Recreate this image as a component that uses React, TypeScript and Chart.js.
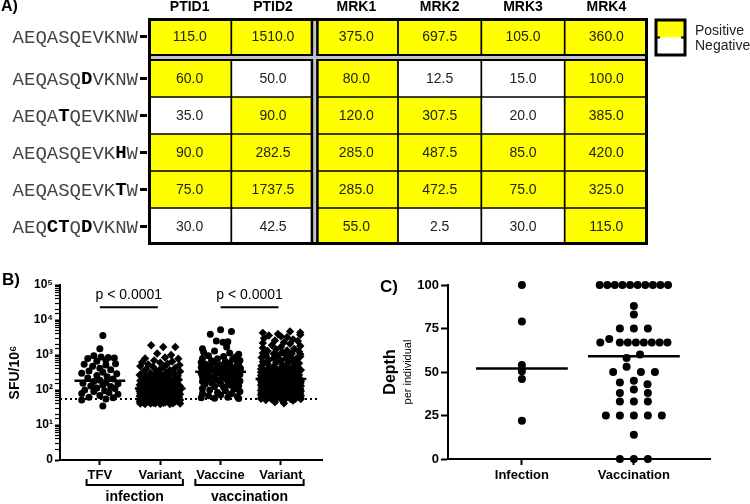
import React, { useEffect, useRef } from 'react';
import { Chart, registerables } from 'chart.js';

Chart.register(...registerables);

const SANS = '"Liberation Sans", Arial, Helvetica, sans-serif';
const NARROW = '"Liberation Sans Narrow", "Liberation Sans", Arial, sans-serif';
const MONO = '"Liberation Mono", "DejaVu Sans Mono", monospace';

Chart.defaults.font.family = SANS;
Chart.defaults.color = '#000';

// ---------------- Panel A data ----------------
const columnLabels = ['PTID1', 'PTID2', 'MRK1', 'MRK2', 'MRK3', 'MRK4'];
const peptides = ['AEQASQEVKNW', 'AEQASQDVKNW', 'AEQATQEVKNW', 'AEQASQEVKHW', 'AEQASQEVKTW', 'AEQCTQDVKNW'];
const peptideBold = [[], [6], [4], [9], [9], [3, 4, 6]];
const sfuValues = [
  [115, 1510, 375, 697.5, 105, 360],
  [60, 50, 80, 12.5, 15, 100],
  [35, 90, 120, 307.5, 20, 385],
  [90, 282.5, 285, 487.5, 85, 420],
  [75, 1737.5, 285, 472.5, 75, 325],
  [30, 42.5, 55, 2.5, 30, 115],
];
const positive = [
  [1, 1, 1, 1, 1, 1],
  [1, 0, 1, 0, 0, 1],
  [0, 1, 1, 1, 0, 1],
  [1, 1, 1, 1, 1, 1],
  [1, 1, 1, 1, 1, 1],
  [0, 0, 1, 0, 0, 1],
];
const legendLabels = ['Positive', 'Negative'];
const legendColors = ['#FFFF00', '#FFFFFF'];

// ---------------- Panel B data ----------------
const categoriesB = ['TFV', 'Variant', 'Vaccine', 'Variant'];
const groupsB = [
  { label: 'infection', from: 0, to: 1 },
  { label: 'vaccination', from: 2, to: 3 },
];
const yTickLabelsB = ['0', '10¹', '10²', '10³', '10⁴', '10⁵'];
const tfvPoints = [
  [0.05, 3600], [0.0, 1500], [-0.1, 950], [0.02, 880], [0.14, 850], [-0.2, 800], [0.24, 820], [0.1, 720],
  [-0.05, 660], [0.26, 560], [-0.26, 540], [0.1, 520], [-0.12, 480], [0.0, 420], [0.18, 380], [-0.18, 350],
  [0.05, 320], [-0.3, 300], [0.28, 290], [-0.05, 260], [0.12, 240], [-0.2, 220], [0.22, 205], [0.0, 190],
  [-0.1, 175], [0.1, 165], [-0.28, 155], [0.3, 150], [0.05, 140], [-0.15, 130], [0.18, 125], [-0.05, 115],
  [0.25, 110], [-0.25, 100], [0.08, 95], [-0.1, 90], [0.15, 85], [-0.3, 80], [0.3, 75], [0.0, 70],
  [-0.18, 62], [0.22, 60], [-0.3, 52], [0.1, 55], [0.05, 35],
];
const infectionVariantPoints = [
  [-0.15, 1900], [0.05, 1700], [0.25, 1700], [-0.05, 1100], [0.18, 1000], [-0.25, 800], [0.08, 850], [0.3, 780],
  [-0.1, 700], [0.2, 650], [-0.3, 620], [0.0, 600], [0.12, 560], [-0.2, 540], [0.32, 520],
  [-0.33, 480], [-0.12, 460], [0.06, 450], [0.25, 430], [-0.23, 400], [0.0, 390], [0.16, 370], [-0.06, 350],
  [0.33, 340], [-0.29, 320], [0.1, 310], [-0.16, 300], [0.23, 290], [0.02, 280], [-0.34, 270], [0.15, 265],
  [-0.08, 260], [0.29, 255], [-0.25, 252], [0.07, 250],
  [-0.31, 240], [-0.18, 235], [-0.04, 230], [0.1, 228], [0.25, 225], [-0.26, 210], [-0.12, 205], [0.02, 200],
  [0.16, 198], [0.31, 195], [-0.33, 185], [-0.2, 180], [-0.06, 178], [0.08, 175], [0.21, 170], [-0.28, 160],
  [-0.15, 158], [0.0, 155], [0.13, 152], [0.28, 150], [-0.34, 140], [-0.22, 138], [-0.08, 135], [0.05, 132],
  [0.18, 130], [0.33, 128], [-0.29, 120], [-0.16, 118], [-0.02, 117], [0.11, 115], [0.25, 113], [-0.34, 112],
  [-0.1, 111], [0.04, 110], [0.2, 110],
  [-0.33, 105], [-0.16, 104], [0.0, 103], [0.16, 102], [0.33, 101],
  [-0.25, 98], [-0.08, 97], [0.08, 96], [0.25, 95],
  [-0.34, 92], [-0.18, 91], [0.02, 90], [0.18, 89], [0.31, 88],
  [-0.26, 85], [-0.1, 84], [0.06, 83], [0.23, 82],
  [-0.33, 79], [-0.16, 78], [0.0, 77], [0.15, 76], [0.33, 75],
  [-0.25, 72], [-0.07, 71], [0.1, 70], [0.26, 69],
  [-0.34, 66], [-0.18, 65], [0.0, 64], [0.16, 63], [0.31, 62],
  [-0.28, 60], [-0.11, 59], [0.05, 58], [0.21, 57],
  [-0.33, 55], [-0.16, 54], [0.0, 54], [0.16, 53], [0.33, 52],
  [-0.25, 50], [-0.08, 50], [0.08, 49], [0.25, 48],
  [-0.34, 47], [-0.18, 46], [0.02, 46], [0.18, 45], [0.31, 45],
  [-0.28, 44], [-0.11, 43], [0.05, 43], [0.21, 42],
  [-0.33, 41], [-0.16, 41], [0.0, 40], [0.16, 40], [0.33, 41],
  [-0.25, 40], [-0.08, 42], [0.08, 44], [0.25, 47],
];
const vaccinePoints = [
  [0.0, 5300], [0.18, 4700], [-0.17, 3900], [-0.07, 2500], [0.04, 2300], [0.12, 2400], [0.1, 1700], [-0.3, 1500],
  [-0.1, 1300], [0.15, 1150], [-0.28, 1200], [0.3, 1050],
  [-0.2, 950], [0.05, 900], [0.25, 880], [-0.3, 800], [-0.05, 780], [0.2, 750], [0.32, 700], [-0.15, 680],
  [0.08, 650], [-0.32, 620], [0.28, 600], [-0.1, 580], [0.15, 560], [-0.25, 540], [0.0, 520], [0.3, 500],
  [-0.18, 480], [0.1, 470], [-0.32, 450], [0.22, 440], [-0.05, 420], [0.33, 410],
  [-0.25, 395], [0.05, 390], [0.2, 380], [-0.12, 370], [0.3, 360], [-0.3, 350], [0.12, 345], [-0.02, 335],
  [-0.2, 320], [0.25, 315], [0.08, 305], [-0.32, 300], [-0.08, 290], [0.18, 285], [0.32, 275], [-0.22, 265],
  [0.02, 260], [0.14, 250], [-0.3, 240], [-0.12, 235], [0.28, 225], [0.06, 215], [-0.2, 205], [0.2, 200],
  [-0.05, 190], [0.32, 180], [-0.3, 175], [0.12, 170], [-0.15, 160], [0.25, 155], [0.0, 150],
  [-0.26, 145], [0.15, 140], [0.3, 130], [-0.1, 125], [0.05, 120], [-0.3, 110], [0.22, 105], [-0.18, 100],
  [0.08, 95], [0.32, 90], [-0.05, 85], [-0.3, 80], [0.18, 78], [0.0, 72], [-0.2, 68], [0.28, 65],
  [-0.32, 60], [0.12, 62], [-0.1, 58], [0.3, 57],
];
const vaccinationVariantPoints = [
  [-0.3, 4300], [-0.05, 4000], [0.15, 4700], [0.32, 4400], [0.32, 3800], [-0.2, 3600], [0.0, 3400], [0.1, 3200],
  [-0.28, 3000], [0.2, 2800], [-0.1, 2600], [0.28, 2500], [0.05, 2300], [-0.3, 2200], [0.15, 2100], [-0.15, 1900],
  [0.32, 1800], [0.0, 1700], [-0.3, 1600], [0.22, 1500], [-0.08, 1450], [0.1, 1350], [-0.22, 1300], [0.3, 1250],
  [0.02, 1200], [-0.3, 1150], [0.18, 1100], [-0.12, 1080], [0.32, 1050], [0.08, 1020],
  [-0.25, 980], [-0.05, 950], [0.15, 920], [0.32, 900], [-0.32, 850], [-0.12, 820], [0.08, 800], [0.25, 780],
  [-0.2, 720], [0.0, 700], [0.2, 680], [-0.3, 640], [-0.08, 620], [0.12, 600], [0.3, 580], [-0.22, 550],
  [0.02, 530], [0.22, 510], [-0.32, 490], [-0.12, 470], [0.1, 460], [0.28, 450], [-0.2, 430], [0.0, 420], [0.18, 410],
  [-0.33, 395], [-0.2, 390], [-0.06, 385], [0.08, 380], [0.22, 375], [0.33, 370], [-0.27, 355], [-0.13, 350],
  [0.01, 345], [0.15, 340], [0.29, 335], [-0.33, 320], [-0.19, 315], [-0.05, 310], [0.09, 305], [0.23, 300],
  [-0.26, 290], [-0.12, 285], [0.02, 280], [0.16, 275], [0.3, 270], [-0.33, 260], [-0.19, 255], [-0.05, 250],
  [0.09, 248], [0.23, 245], [-0.26, 235], [-0.12, 232], [0.02, 228], [0.16, 225], [0.3, 222], [-0.33, 218],
  [-0.19, 215], [0.05, 212], [0.2, 211],
  [-0.32, 207], [-0.16, 205], [0.0, 203], [0.16, 201], [0.32, 199],
  [-0.24, 194], [-0.08, 192], [0.08, 190], [0.24, 188],
  [-0.33, 183], [-0.16, 181], [0.0, 179], [0.16, 177], [0.33, 175],
  [-0.24, 171], [-0.08, 169], [0.08, 167], [0.24, 165],
  [-0.32, 161], [-0.16, 159], [0.0, 157], [0.16, 155], [0.32, 153],
  [-0.24, 149], [-0.08, 147], [0.08, 145], [0.24, 143],
  [-0.33, 139], [-0.16, 137], [0.0, 135], [0.16, 133], [0.33, 131],
  [-0.24, 127], [-0.08, 125], [0.08, 123], [0.24, 121],
  [-0.32, 117], [-0.16, 115], [0.0, 113], [0.16, 111], [0.32, 109],
  [-0.24, 106], [-0.08, 104], [0.08, 102], [0.24, 101],
  [-0.33, 98], [-0.16, 96], [0.0, 95], [0.16, 94], [0.33, 93],
  [-0.24, 90], [-0.08, 89], [0.08, 88], [0.24, 87],
  [-0.32, 84], [-0.16, 83], [0.0, 82], [0.16, 81], [0.32, 80],
  [-0.24, 78], [-0.08, 77], [0.08, 76], [0.24, 75],
  [-0.33, 73], [-0.16, 72], [0.0, 71], [0.16, 70], [0.33, 69],
  [-0.24, 67], [-0.08, 66], [0.08, 65], [0.24, 64],
  [-0.32, 62], [-0.16, 61], [0.0, 60], [0.16, 60], [0.32, 59],
  [-0.24, 58], [-0.08, 57], [0.08, 57], [0.24, 56],
  [-0.33, 56], [-0.16, 55], [0.0, 55], [0.16, 55], [0.33, 55],
  [-0.1, 45], [0.05, 42], [0.2, 50], [-0.25, 52],
];
const mediansB = [185, 110, 330, 205];
const thresholdB = 55;
const sigBarsB = [
  { from: 0, to: 0.96, y: 23000, text: 'p < 0.0001' },
  { from: 2, to: 2.96, y: 23000, text: 'p < 0.0001' },
];

// ---------------- Panel C data ----------------
const categoriesC = ['Infection', 'Vaccination'];
const infectionDepth = [[0, 100], [0, 79], [0, 54], [0, 50.5], [0, 46], [0, 22]];
const vaccinationDepth = [
  [-0.305, 100], [-0.237, 100], [-0.17, 100], [-0.102, 100], [-0.034, 100],
  [0.034, 100], [0.102, 100], [0.17, 100], [0.237, 100], [0.305, 100],
  [0, 88], [0, 83],
  [-0.125, 75], [0, 75], [0.125, 75],
  [-0.22, 69],
  [-0.3, 67], [-0.125, 67], [-0.054, 67], [0.018, 67], [0.089, 67], [0.16, 67], [0.23, 67], [0.3, 67],
  [0.055, 60], [-0.065, 58], [-0.065, 53],
  [-0.185, 50], [0.063, 50], [0.188, 50],
  [0, 45], [-0.125, 44], [0.122, 43],
  [0, 40], [-0.125, 38], [0.125, 38],
  [-0.125, 33], [0, 33], [0.125, 33],
  [-0.25, 25], [-0.125, 25], [0, 25], [0.125, 25], [0.25, 25],
  [0, 14],
  [-0.125, 0], [0, 0], [0.125, 0],
];
const mediansC = [52, 59];

// ---------------- helpers ----------------
const isPow10 = (v: number) => v > 0 && Math.abs(Math.log10(v) - Math.round(Math.log10(v))) < 1e-6;
const toXY = (pts: number[][], center: number) => pts.map(([dx, v]) => ({ x: center + dx, y: v }));

function makeTable(canvas: HTMLCanvasElement) {
  const gap = 0.135;
  const rowStart = (r: number) => r + (r > 0 ? gap : 0);
  const plugin = {
    id: 'tableDecor',
    afterDatasetsDraw(chart: any) {
      const { ctx, chartArea: ca } = chart;
      const x = chart.scales.x;
      const y = chart.scales.y;
      ctx.save();
      // separators
      const gx = (x.getPixelForValue(1) + x.getPixelForValue(2)) / 2;
      const gy0 = y.getPixelForValue(1);
      const gy1 = y.getPixelForValue(1 + gap);
      ctx.fillStyle = '#000';
      ctx.fillRect(gx - 4, ca.top, 8, ca.bottom - ca.top);
      ctx.fillRect(ca.left, gy0 - 1, ca.right - ca.left, gy1 - gy0 + 2);
      ctx.fillStyle = '#c4c4c4';
      ctx.fillRect(gx - 1.5, ca.top, 3, ca.bottom - ca.top);
      ctx.fillRect(ca.left, (gy0 + gy1) / 2 - 1.5, ca.right - ca.left, 3);
      // values
      ctx.font = `14px ${NARROW}`;
      ctx.textAlign = 'center';
      ctx.textBaseline = 'middle';
      ctx.fillStyle = '#222';
      chart.data.datasets.forEach((_: any, r: number) => {
        chart.getDatasetMeta(r).data.forEach((bar: any, c: number) => {
          ctx.fillText(sfuValues[r][c].toFixed(1), bar.x, (bar.y + bar.base) / 2 + 0.5);
        });
      });
      // outer border
      ctx.strokeStyle = '#000';
      ctx.lineWidth = 3;
      ctx.strokeRect(ca.left + 1.5, ca.top + 1.5, ca.right - ca.left - 3, ca.bottom - ca.top - 3);
      // row labels
      ctx.font = `19px ${MONO}`;
      const cw = ctx.measureText('M').width;
      ctx.textAlign = 'left';
      peptides.forEach((p, r) => {
        const bar = chart.getDatasetMeta(r).data[0];
        const cy = (bar.y + bar.base) / 2;
        const sx = ca.left - 10 - cw * p.length;
        for (let i = 0; i < p.length; i++) {
          const b = peptideBold[r].includes(i);
          ctx.font = `${b ? 'bold ' : ''}19px ${MONO}`;
          ctx.fillStyle = b ? '#000' : '#444';
          ctx.fillText(p[i], sx + i * cw, cy + 1);
        }
        ctx.fillStyle = '#000';
        ctx.fillRect(ca.left - 8, cy - 1.5, 7, 3);
      });
      // legend
      const lx = ca.right + 8;
      const ly = ca.top + 2;
      const lw = 29;
      const lh = 35;
      legendColors.forEach((col, i) => {
        ctx.fillStyle = col;
        ctx.fillRect(lx, ly + (i * lh) / 2, lw, lh / 2);
      });
      ctx.strokeStyle = '#000';
      ctx.lineWidth = 3;
      ctx.strokeRect(lx, ly, lw, lh);
      ctx.fillStyle = '#000';
      ctx.fillRect(lx + 1, ly + lh / 2 - 1, 3, 2);
      ctx.fillRect(lx + lw - 4, ly + lh / 2 - 1, 3, 2);
      ctx.font = `14px ${SANS}`;
      ctx.fillStyle = '#222';
      ctx.textBaseline = 'middle';
      legendLabels.forEach((t, i) => {
        ctx.fillText(t, lx + 39, ly + 11 + i * 15.5);
      });
      // panel letter
      ctx.font = `bold 16px ${SANS}`;
      ctx.fillStyle = '#000';
      ctx.fillText('A)', 1, 7);
      ctx.restore();
    },
  };
  return new Chart(canvas, {
    type: 'bar',
    data: {
      labels: columnLabels,
      datasets: peptides.map((p, r) => ({
        label: p,
        data: columnLabels.map(() => [rowStart(r), rowStart(r) + 1]),
        backgroundColor: positive[r].map((v) => (v ? legendColors[0] : legendColors[1])),
        borderColor: '#000',
        borderWidth: 1.2,
        borderSkipped: false,
        grouped: false,
        barPercentage: 1,
        categoryPercentage: 1,
      })),
    } as any,
    options: {
      responsive: false,
      animation: false,
      layout: { padding: { left: 148, right: 102, top: 0, bottom: 10 } },
      scales: {
        x: {
          position: 'top',
          grid: { display: false, drawTicks: false },
          border: { display: false },
          ticks: { font: { family: SANS, size: 14, weight: 'bold' }, color: '#000', padding: 2 },
          afterFit: (s: any) => { s.height = 18; },
        },
        y: { display: false, reverse: true, min: 0, max: 6 + gap },
      },
      plugins: { legend: { display: false }, tooltip: { enabled: false } },
    } as any,
    plugins: [plugin],
  });
}

function makeB(canvas: HTMLCanvasElement) {
  const plugin = {
    id: 'panelBDecor',
    afterDraw(chart: any) {
      const { ctx, chartArea: ca } = chart;
      const x = chart.scales.x;
      const y = chart.scales.y;
      ctx.save();
      ctx.fillStyle = '#000';
      ctx.font = `bold 17px ${SANS}`;
      ctx.textAlign = 'left';
      ctx.textBaseline = 'middle';
      ctx.fillText('B)', 2, 25);
      ctx.font = `14px ${SANS}`;
      ctx.textAlign = 'center';
      ctx.textBaseline = 'alphabetic';
      sigBarsB.forEach((s) => {
        const px = (x.getPixelForValue(s.from) + x.getPixelForValue(s.to)) / 2;
        ctx.fillText(s.text, px, y.getPixelForValue(s.y) - 8);
      });
      ctx.font = `bold 13px ${SANS}`;
      ctx.strokeStyle = '#000';
      ctx.lineWidth = 2;
      groupsB.forEach((g) => {
        const w0 = ctx.measureText(categoriesB[g.from]).width;
        const w1 = ctx.measureText(categoriesB[g.to]).width;
        const left = x.getPixelForValue(g.from) - w0 / 2 - 1;
        const right = x.getPixelForValue(g.to) + w1 / 2 + 1;
        const t = ca.bottom + 19;
        const b = ca.bottom + 25;
        ctx.beginPath();
        ctx.moveTo(left, t);
        ctx.lineTo(left, b);
        ctx.lineTo(right, b);
        ctx.lineTo(right, t);
        ctx.stroke();
      });
      ctx.font = `bold 14px ${SANS}`;
      ctx.textBaseline = 'middle';
      groupsB.forEach((g) => {
        ctx.font = `bold 13px ${SANS}`;
        const w0 = ctx.measureText(categoriesB[g.from]).width;
        const w1 = ctx.measureText(categoriesB[g.to]).width;
        const left = x.getPixelForValue(g.from) - w0 / 2 - 1;
        const right = x.getPixelForValue(g.to) + w1 / 2 + 1;
        ctx.font = `bold 14px ${SANS}`;
        ctx.fillText(g.label, (left + right) / 2, ca.bottom + 37);
      });
      ctx.restore();
    },
  };
  const pointSets = [
    { pts: tfvPoints, style: 'circle', r: 3.5 },
    { pts: infectionVariantPoints, style: 'rectRot', r: 4.2 },
    { pts: vaccinePoints, style: 'circle', r: 3.5 },
    { pts: vaccinationVariantPoints, style: 'rectRot', r: 4.2 },
  ];
  const datasets: any[] = [];
  pointSets.forEach((s, i) => {
    datasets.push({
      label: categoriesB[i],
      data: toXY(s.pts, i),
      pointStyle: s.style,
      pointRadius: s.r,
      pointBackgroundColor: '#000',
      pointBorderColor: '#000',
      pointBorderWidth: 0,
      order: 2,
    });
  });
  mediansB.forEach((m, i) => {
    datasets.push({
      data: [{ x: i - 0.42, y: m }, { x: i + 0.42, y: m }],
      showLine: true, borderColor: '#000', borderWidth: 2.5, pointRadius: 0, order: 0,
    });
  });
  datasets.push({
    data: [{ x: -0.66, y: thresholdB }, { x: 3.6, y: thresholdB }],
    showLine: true, borderColor: '#000', borderWidth: 2, borderDash: [2, 3], pointRadius: 0, order: 3,
  });
  sigBarsB.forEach((s) => {
    datasets.push({
      data: [{ x: s.from, y: s.y }, { x: s.to, y: s.y }],
      showLine: true, borderColor: '#000', borderWidth: 2, pointRadius: 0, order: 0,
    });
  });
  return new Chart(canvas, {
    type: 'scatter',
    data: { datasets },
    options: {
      responsive: false,
      animation: false,
      layout: { padding: { left: 0, right: 53, top: 30, bottom: 0 } },
      scales: {
        x: {
          type: 'linear', min: -0.66, max: 3.68,
          afterBuildTicks: (s: any) => { s.ticks = categoriesB.map((_, i) => ({ value: i })); },
          ticks: { callback: (v: any) => categoriesB[v], font: { size: 13, weight: 'bold' }, color: '#000', padding: 3, autoSkip: false, maxRotation: 0 },
          grid: { drawOnChartArea: false, tickLength: 5, tickWidth: 2, tickColor: '#000' },
          border: { color: '#000', width: 2 },
          afterFit: (s: any) => { s.height = 44; },
        },
        y: {
          type: 'logarithmic', min: 1, max: 100000,
          ticks: {
            autoSkip: false,
            callback: (v: any) => (isPow10(v) ? yTickLabelsB[Math.round(Math.log10(v))] : ''),
            font: { size: 12, weight: 'bold' }, color: '#000', padding: 2,
          },
          grid: {
            drawOnChartArea: false, tickLength: 5, tickColor: '#000',
            tickWidth: (c: any) => (c.tick && isPow10(c.tick.value) ? 2 : 1.2),
          },
          border: { color: '#000', width: 2 },
          title: { display: true, text: 'SFU/10⁶', font: { size: 14, weight: 'bold' }, color: '#000', padding: { top: 7, bottom: 0 } },
          afterFit: (s: any) => { s.width = 60; },
        },
      },
      plugins: { legend: { display: false }, tooltip: { enabled: false } },
    } as any,
    plugins: [plugin],
  });
}

function makeC(canvas: HTMLCanvasElement) {
  const plugin = {
    id: 'panelCDecor',
    afterDraw(chart: any) {
      const { ctx, chartArea: ca } = chart;
      ctx.save();
      ctx.fillStyle = '#000';
      ctx.font = `bold 17px ${SANS}`;
      ctx.textAlign = 'left';
      ctx.textBaseline = 'middle';
      ctx.fillText('C)', 5, 32);
      const cy = (ca.top + ca.bottom) / 2;
      ctx.textAlign = 'center';
      ctx.save();
      ctx.translate(16, cy);
      ctx.rotate(-Math.PI / 2);
      ctx.font = `bold 16px ${SANS}`;
      ctx.fillText('Depth', 0, 0);
      ctx.restore();
      ctx.save();
      ctx.translate(32.5, cy);
      ctx.rotate(-Math.PI / 2);
      ctx.font = `11px ${SANS}`;
      ctx.fillText('per individual', 0, 0);
      ctx.restore();
      ctx.restore();
    },
  };
  const datasets: any[] = [];
  [infectionDepth, vaccinationDepth].forEach((pts, i) => {
    datasets.push({
      label: categoriesC[i],
      data: toXY(pts, i),
      pointStyle: 'circle', pointRadius: 4, pointBackgroundColor: '#000', pointBorderWidth: 0,
      clip: false, order: 2,
    });
  });
  mediansC.forEach((m, i) => {
    datasets.push({
      data: [{ x: i - 0.41, y: m }, { x: i + 0.41, y: m }],
      showLine: true, borderColor: '#000', borderWidth: 2.5, pointRadius: 0, order: 0,
    });
  });
  return new Chart(canvas, {
    type: 'scatter',
    data: { datasets },
    options: {
      responsive: false,
      animation: false,
      layout: { padding: { left: 0, right: 40, top: 30, bottom: 0 } },
      scales: {
        x: {
          type: 'linear', min: -0.66, max: 1.68,
          afterBuildTicks: (s: any) => { s.ticks = categoriesC.map((_, i) => ({ value: i })); },
          ticks: { callback: (v: any) => categoriesC[v], font: { size: 13, weight: 'bold' }, color: '#000', padding: 3, autoSkip: false, maxRotation: 0 },
          grid: { drawOnChartArea: false, tickLength: 6, tickWidth: 2, tickColor: '#000' },
          border: { color: '#000', width: 2 },
          afterFit: (s: any) => { s.height = 45; },
        },
        y: {
          type: 'linear', min: 0, max: 100,
          ticks: { stepSize: 25, font: { size: 13, weight: 'bold' }, color: '#000', padding: 2 },
          grid: { drawOnChartArea: false, tickLength: 7, tickWidth: 2, tickColor: '#000' },
          border: { color: '#000', width: 2 },
          afterFit: (s: any) => { s.width = 73; },
        },
      },
      plugins: { legend: { display: false }, tooltip: { enabled: false } },
    } as any,
    plugins: [plugin],
  });
}

export default function App() {
  const refA = useRef<HTMLCanvasElement>(null);
  const refB = useRef<HTMLCanvasElement>(null);
  const refC = useRef<HTMLCanvasElement>(null);
  useEffect(() => {
    const charts = [makeTable(refA.current!), makeB(refB.current!), makeC(refC.current!)];
    return () => charts.forEach((c) => c.destroy());
  }, []);
  return (
    <div style={{ position: 'fixed', left: 0, top: 0, width: 750, height: 504, background: '#fff', overflow: 'hidden' }}>
      <canvas ref={refA} width={750} height={255} style={{ position: 'absolute', left: 0, top: 0 }} />
      <canvas ref={refB} width={375} height={249} style={{ position: 'absolute', left: 0, top: 255 }} />
      <canvas ref={refC} width={375} height={249} style={{ position: 'absolute', left: 375, top: 255 }} />
    </div>
  );
}
